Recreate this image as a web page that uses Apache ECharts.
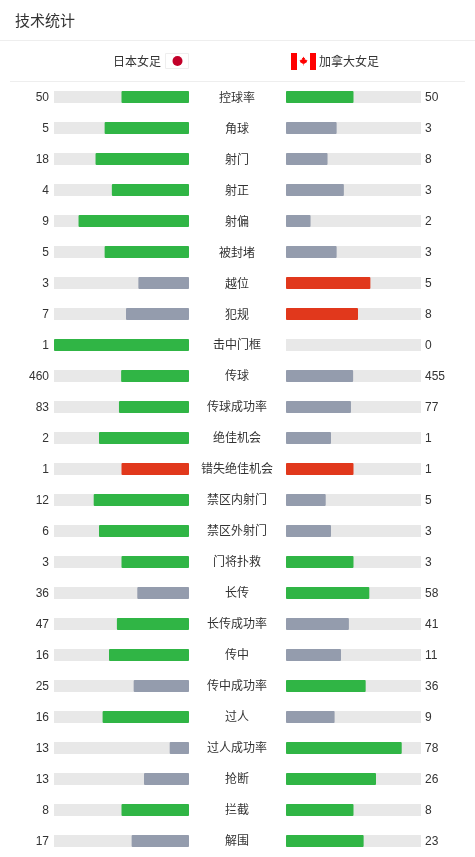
<!DOCTYPE html>
<html>
<head>
<meta charset="utf-8">
<script src="https://cdn.jsdelivr.net/npm/echarts@6/dist/echarts.min.js"></script>
<style>
html,body{margin:0;padding:0;background:#fff;}
#chart{width:475px;height:857px;}
</style>
</head>
<body>
<div id="chart"></div>
<script>
var titleText = '技术统计';
var homeTeam = '日本女足';
var awayTeam = '加拿大女足';
var categories = ['控球率','角球','射门','射正','射偏','被封堵','越位','犯规','击中门框','传球','传球成功率','绝佳机会','错失绝佳机会','禁区内射门','禁区外射门','门将扑救','长传','长传成功率','传中','传中成功率','过人','过人成功率','抢断','拦截','解围'];
var homeValues = [50,5,18,4,9,5,3,7,1,460,83,2,1,12,6,3,36,47,16,25,16,13,13,8,17];
var awayValues = [50,3,8,3,2,3,5,8,0,455,77,1,1,5,3,3,58,41,11,36,9,78,26,8,23];
var negativeStats = ['越位','犯规','错失绝佳机会'];

var GREEN = '#30b545', GRAY = '#949cad', RED = '#e1381c', TRACK = '#e8e8e8';
var FONT = "'Liberation Sans','Noto Sans CJK SC',sans-serif";

function colorFor(cat, mine, other) {
  var neg = negativeStats.indexOf(cat) >= 0;
  if (mine >= other) return neg ? RED : GREEN;
  return GRAY;
}
function share(a, b) { return (a + b) === 0 ? 0 : a / (a + b); }

var homeData = categories.map(function (c, i) {
  return { value: share(homeValues[i], awayValues[i]), itemStyle: { color: colorFor(c, homeValues[i], awayValues[i]) } };
});
var awayData = categories.map(function (c, i) {
  return { value: share(awayValues[i], homeValues[i]), itemStyle: { color: colorFor(c, awayValues[i], homeValues[i]) } };
});

var chart = echarts.init(document.getElementById('chart'), null, { renderer: 'canvas' });
var gridTop = 81.5, gridH = 775;
var labelStyle = { color: '#333', fontSize: 12, fontFamily: FONT };
var hidden = { axisLine: { show: false }, axisTick: { show: false }, splitLine: { show: false } };

// maple leaf outline in a 10x10 unit box (decoration)
var leafUnit = [[5,0],[6,2],[7,1.5],[6.6,4],[8.5,3],[8,4.2],[10,4],[9,5.5],[9.5,6],[6,8],[5.3,8],[5.3,10],[4.7,10],[4.7,8],[4,8],[0.5,6],[1,5.5],[0,4],[2,4.2],[1.5,3],[3.4,4],[3,1.5],[4,2]];
var leafPts = leafUnit.map(function (p) { return [299.5 + p[0] * 0.8, 56.5 + p[1] * 0.9]; });

function valAxis(g, inv) { return { gridIndex: g, type: 'value', min: 0, max: 1, inverse: !!inv, show: false }; }

var option = {
  backgroundColor: '#fff',
  animation: false,
  textStyle: { fontFamily: FONT },
  grid: [
    { left: 54, width: 135, top: gridTop, height: gridH },
    { left: 286, width: 135, top: gridTop, height: gridH },
    { left: 54, width: 135, top: gridTop + 0.5, height: gridH },
    { left: 54, width: 135, top: gridTop + 1.5, height: gridH },
    { left: 286, width: 135, top: gridTop + 0.5, height: gridH }
  ],
  xAxis: [valAxis(0, true), valAxis(1), valAxis(2, true), valAxis(3, true), valAxis(4)],
  yAxis: [
    Object.assign({ gridIndex: 0, type: 'category', data: categories, inverse: true, axisLabel: { show: false } }, hidden),
    Object.assign({ gridIndex: 1, type: 'category', data: categories, inverse: true, axisLabel: { show: false } }, hidden),
    Object.assign({ gridIndex: 2, type: 'category', data: categories, inverse: true, position: 'left',
      axisLabel: Object.assign({ margin: 5, formatter: function (v, i) { return String(homeValues[i]); } }, labelStyle) }, hidden),
    Object.assign({ gridIndex: 3, type: 'category', data: categories, inverse: true, position: 'right',
      axisLabel: Object.assign({ margin: 48, align: 'center' }, labelStyle) }, hidden),
    Object.assign({ gridIndex: 4, type: 'category', data: categories, inverse: true, position: 'right',
      axisLabel: Object.assign({ margin: 4, formatter: function (v, i) { return String(awayValues[i]); } }, labelStyle) }, hidden)
  ],
  series: [
    { type: 'bar', xAxisIndex: 0, yAxisIndex: 0, data: homeData, barWidth: 12,
      itemStyle: { borderRadius: 1 },
      showBackground: true, backgroundStyle: { color: TRACK } },
    { type: 'bar', xAxisIndex: 1, yAxisIndex: 1, data: awayData, barWidth: 12,
      itemStyle: { borderRadius: 1 },
      showBackground: true, backgroundStyle: { color: TRACK } }
  ],
  graphic: [
    { type: 'text', style: { text: titleText, x: 15, y: 20, fill: '#333', font: "15px 'Noto Sans CJK SC',sans-serif", align: 'left', verticalAlign: 'middle' } },
    { type: 'line', shape: { x1: 0, y1: 40.5, x2: 475, y2: 40.5 }, style: { stroke: '#eeeeee', lineWidth: 1 } },
    { type: 'line', shape: { x1: 10, y1: 81.5, x2: 465, y2: 81.5 }, style: { stroke: '#eeeeee', lineWidth: 1 } },
    { type: 'text', style: { text: homeTeam, x: 161, y: 61, fill: '#333', font: "12px 'Noto Sans CJK SC',sans-serif", align: 'right', verticalAlign: 'middle' } },
    { type: 'rect', shape: { x: 165.5, y: 53.5, width: 23, height: 15 }, style: { fill: '#fff', stroke: '#eeeeee', lineWidth: 1 } },
    { type: 'circle', shape: { cx: 177.5, cy: 61, r: 5 }, style: { fill: '#c20029' } },
    { type: 'rect', shape: { x: 291, y: 53, width: 25, height: 17 }, style: { fill: '#fff' } },
    { type: 'rect', shape: { x: 291, y: 53, width: 6, height: 17 }, style: { fill: '#ff0000' } },
    { type: 'rect', shape: { x: 310, y: 53, width: 6, height: 17 }, style: { fill: '#ff0000' } },
    { type: 'polygon', shape: { points: leafPts }, style: { fill: '#ff0000' } },
    { type: 'text', style: { text: awayTeam, x: 319, y: 61, fill: '#333', font: "12px 'Noto Sans CJK SC',sans-serif", align: 'left', verticalAlign: 'middle' } }
  ]
};
chart.setOption(option);
</script>
</body>
</html>
